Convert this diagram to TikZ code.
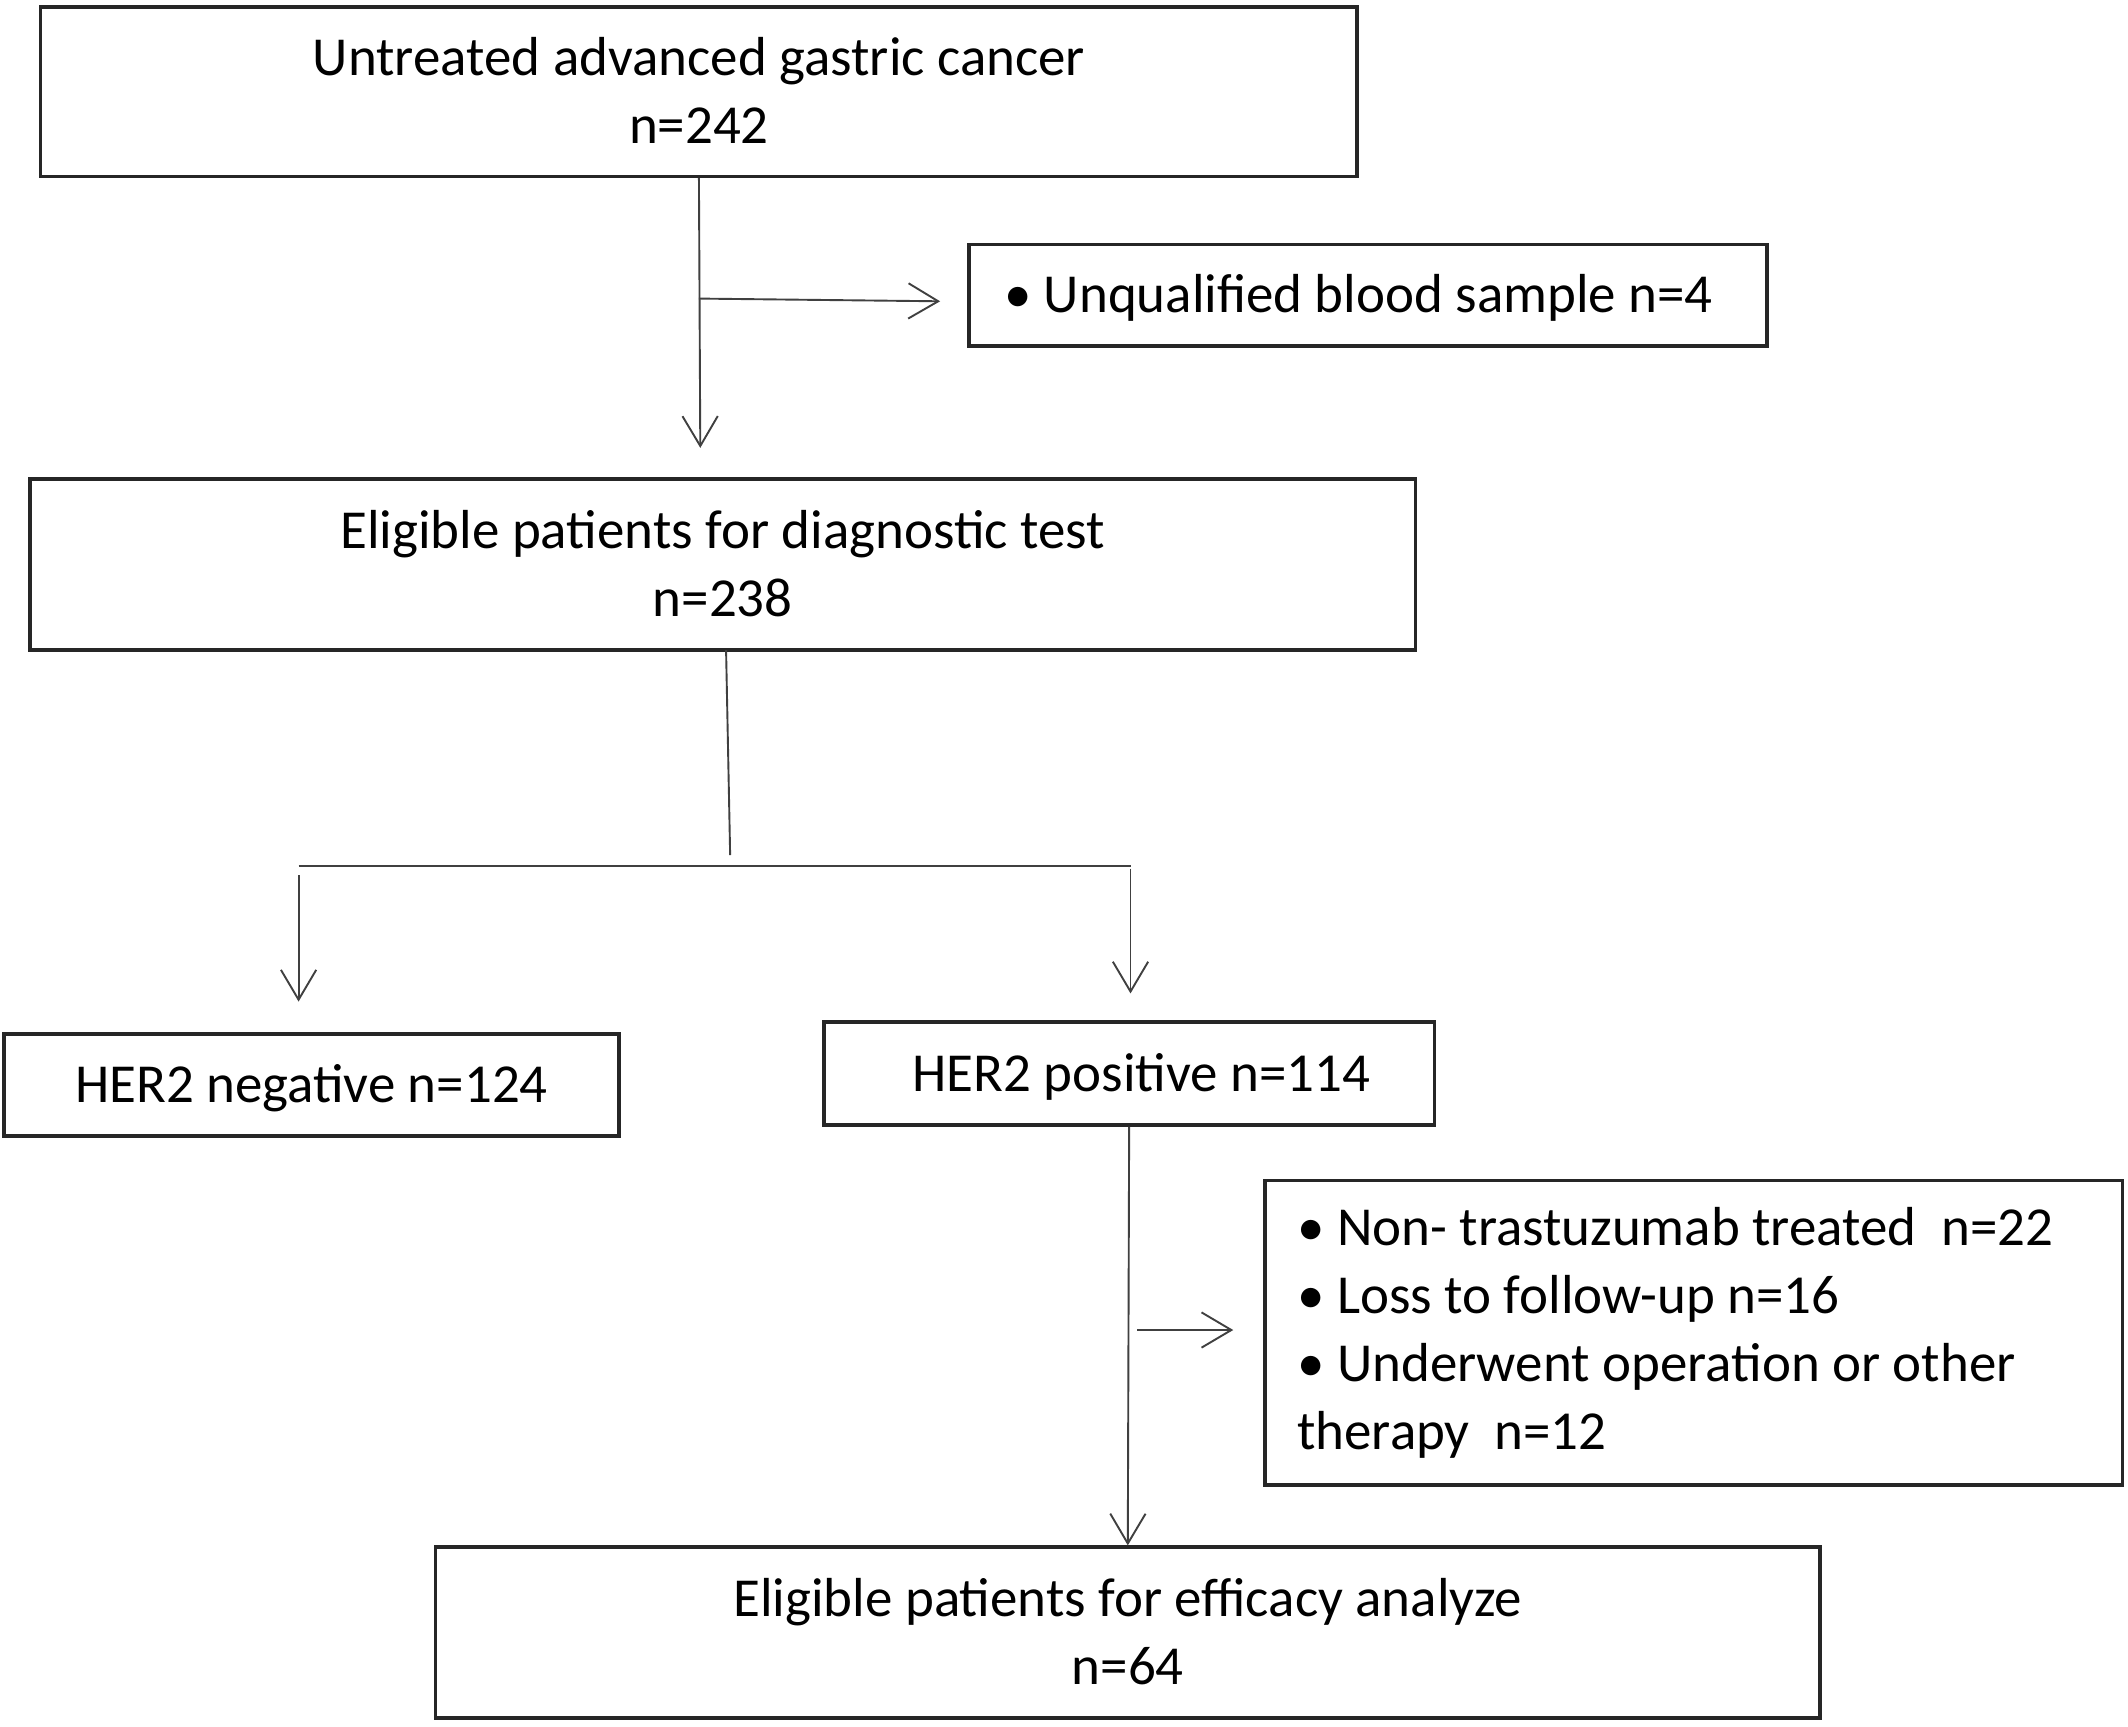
\documentclass[tikz,border=0pt]{standalone}
\usepackage{fontspec}
\setmainfont{Carlito}
\usetikzlibrary{arrows.meta}
\newcommand\topstrut{\rule{0pt}{41pt}}
\begin{document}
\begin{tikzpicture}[x=1pt,y=-1pt,
  txt/.style={inner sep=0pt, font=\fontsize{40.5}{50}\selectfont},
  box/.style={txt, draw=black!85, line width=2.6pt, rectangle, align=center},
  conn/.style={draw=black!75, line width=1.4pt},
  arr/.style={conn, -{Straight Barb[length=22pt,width=26pt,line width=1.4pt]}}]
\useasboundingbox (0,0) rectangle (1568,1272);
\fill[white] (0,0) rectangle (1568,1272);
% boxes
\node[box, minimum width=970, minimum height=125] (b1) at (515,67.5)
  {\topstrut Untreated advanced gastric cancer\\ n=242\strut};
\node[box, minimum width=588, minimum height=75] (b2) at (1008,217.5)
  {\topstrut\hspace*{-14pt}• Unqualified blood sample n=4\strut};
\node[box, minimum width=1021, minimum height=126] (b3) at (532.5,416)
  {\topstrut Eligible patients for diagnostic test\\ n=238\strut};
\node[box, minimum width=453, minimum height=75] (neg) at (229.5,799.5)
  {\topstrut HER2 negative n=124\strut};
\node[box, minimum width=450, minimum height=76] (pos) at (832,791)
  {\topstrut\hspace*{18pt}HER2 positive n=114\strut};
\node[box, minimum width=632, minimum height=224] (ex) at (1248,982) {};
\node[txt, anchor=west, align=left] (exT) at ([xshift=25pt,yshift=2pt]ex.west)
  {\topstrut• Non- trastuzumab treated\ \ n=22\\
   • Loss to follow-up n=16\\
   • Underwent operation or other\\
   therapy\ \ n=12\strut};
\node[box, minimum width=1020, minimum height=126] (fin) at (831,1203)
  {\topstrut Eligible patients for efficacy analyze\\ n=64\strut};
% connectors
\coordinate (j1) at (515,220);
\coordinate (j2) at (538,630);
\coordinate (hl) at (220,638);
\coordinate (hr) at (833,638);
\coordinate (j3) at (832,980);
\draw[arr] (b1.south) -- (516,330) coordinate (a1);
\draw[arr] (j1) -- ([xshift=-20pt]b2.west |- 0,222);
\draw[conn] (535,479) -- (j2);
\draw[conn] (hl) -- (hr);
\draw[arr] (220,645) -- (220,738) coordinate (a2);
\draw[arr] (833,640) -- (833,732) coordinate (a3);
\draw[arr] (pos.south) -- (fin.north);
\draw[arr] ([xshift=6pt]j3) -- ([xshift=-22pt]ex.west |- j3);
\end{tikzpicture}
\end{document}
